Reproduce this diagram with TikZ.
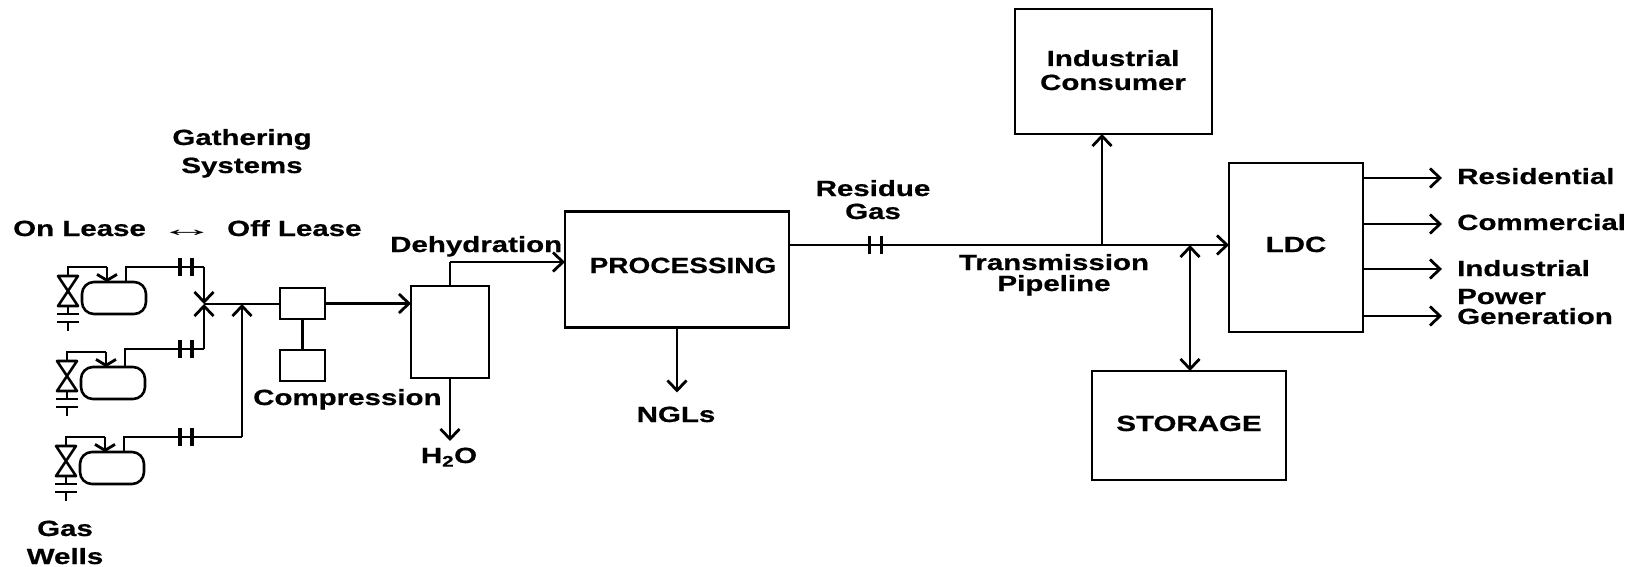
\documentclass[tikz,border=0pt]{standalone}
\usepackage{fontspec}
\setmainfont[FakeStretch=1.34,BoldFeatures={FakeBold=0.7}]{Liberation Sans}
\usetikzlibrary{arrows.meta}
\tikzset{
  >={Straight Barb[length=10pt,width=19pt]},
  pipe/.style={line width=2.8pt},
  boxnode/.style={draw,line width=2.9pt,inner sep=0pt,outer sep=0pt},
  lbl/.style={font=\fontsize{22}{22}\selectfont\bfseries,inner sep=0pt,anchor=base},
  lbll/.style={lbl,anchor=base west},
  wellsym/.pic={
    \coordinate (-in) at (39,0);
    \coordinate (-vt) at (0,9);
    \node[draw,line width=2.6pt,rounded corners=12pt,minimum width=64pt,minimum height=32pt,inner sep=0pt,outer sep=0pt] (-vessel) at (46,31) {};
    \coordinate (-out) at (58,15);
    \draw[line width=2.6pt,line join=round] (-10,9) -- (10,9) -- (-10,39) -- (10,39) -- cycle;
    \draw[pipe] (-vt) -- (0,0) -- (39,0);
    \draw[pipe,->,>={Straight Barb[length=6pt,width=20pt]}] (39,0) -- (39,15);
    \draw[pipe] (0,39) -- (0,47) (-11,47) -- (11,47) (-11,55) -- (11,55) (0,55) -- (0,64);
  },
  ticks/.pic={\draw[line width=3.6pt] (-6,-9) -- (-6,9) (6,-9) -- (6,9);}
}
\begin{document}
\begin{tikzpicture}[x=1pt,y=-1pt]
\useasboundingbox (0,0) rectangle (1638,567);
% wells
\pic (w1) at (68,267) {wellsym};
\pic (w2) at (67,352) {wellsym};
\pic (w3) at (66,437) {wellsym};
% boxes
\node[boxnode,minimum width=45pt,minimum height=31pt] (comp1) at (302.5,303.5) {};
\node[boxnode,minimum width=45pt,minimum height=31pt] (comp2) at (302.5,365.5) {};
\node[boxnode,minimum width=78pt,minimum height=92pt] (dehy) at (450,332) {};
\node[boxnode,minimum width=224pt,minimum height=116pt] (proc) at (677,269.5) {};
\node[boxnode,minimum width=197pt,minimum height=125pt] (ind) at (1113.5,71.5) {};
\node[boxnode,minimum width=134pt,minimum height=169pt] (ldc) at (1296,247.5) {};
\node[boxnode,minimum width=194pt,minimum height=109pt] (stor) at (1189,425.5) {};
% box texts
\node[lbl] (tproc) at (683,273) {\scalebox{0.95}[1]{PROCESSING}};
\node[lbl] (tind1) at (1113,66) {Industrial};
\node[lbl] (tind2) at (1113,90) {Consumer};
\node[lbl] (tldc) at (1296,252) {LDC};
\node[lbl] (tstor) at (1189,431) {STORAGE};
% other texts
\node[lbl] (gath1) at (242,145) {Gathering};
\node[lbl] (gath2) at (242,173) {Systems};
\node[lbll] (onl) at (13,236) {On Lease};
\node[lbl,font=\fontsize{22}{22}\selectfont] (lr) at (187,236) {\scalebox{1.9}[1]{↔}};
\node[lbll] (offl) at (227,236) {Off Lease};
\node[lbll] (tdehy) at (390,252) {Dehydration};
\node[lbll] (tcomp) at (253,405) {Compression};
\node[lbl] (th2o) at (449,463) {H\textsubscript{2}O};
\node[lbl] (tngl) at (676,422) {NGLs};
\node[lbl] (tres1) at (873,196) {Residue};
\node[lbl] (tres2) at (873,219) {Gas};
\node[lbl] (ttr1) at (1054,270) {Transmission};
\node[lbl] (ttr2) at (1054,291) {Pipeline};
\node[lbll] (c1) at (1457,184) {Residential};
\node[lbll] (c2) at (1457,230) {Commercial};
\node[lbll] (c3) at (1457,276) {Industrial};
\node[lbll] (c4a) at (1457,304) {Power};
\node[lbll] (c4b) at (1457,324) {Generation};
\node[lbl] (tg1) at (65,536) {Gas};
\node[lbl] (tg2) at (65,564) {Wells};
% gathering lines
\coordinate (j1) at (204,304);
\coordinate (j2) at (242,304);
\coordinate (b1) at (204,267);
\coordinate (b2) at (204,349);
\coordinate (b3) at (242,437);
\draw[pipe] (w1-out) |- (b1);
\draw[pipe] (w2-out) |- (b2);
\draw[pipe] (w3-out) |- (b3);
\draw[pipe,->] (b1) -- (j1);
\draw[pipe,->] (b2) -- (j1);
\draw[pipe,->] (b3) -- (j2);
\pic at (186,267) {ticks};
\pic at (186,349) {ticks};
\pic at (186,437) {ticks};
\draw[pipe] (j1) -- (j1 -| comp1.west);
\draw[pipe,->] (comp1.east) -- (dehy.west |- comp1.east);
\draw[pipe] (comp1.south) -- (comp2.north);
% dehydration
\coordinate (dout) at (450,262);
\draw[pipe] (dehy.north) -- (dout);
\draw[pipe,->] (dout) -- (dout -| proc.west);
\draw[pipe,->] (dehy.south) -- ++(0,63);
\draw[pipe,->] (proc.south) -- ++(0,65);
% main line
\coordinate (tee) at (1102,245);
\coordinate (stg) at (1190,245);
\draw[pipe,->] (tee -| proc.east) -- (tee -| ldc.west);
\pic at (875.5,245) {ticks};
\draw[pipe,->] (tee) -- (tee |- ind.south);
\draw[pipe,<->] (stg) -- (stg |- stor.north);
% outlets
\coordinate (r1) at (1442,178);
\coordinate (r2) at (1442,224);
\coordinate (r3) at (1442,269);
\coordinate (r4) at (1442,316);
\draw[pipe,->] (r1 -| ldc.east) -- (r1);
\draw[pipe,->] (r2 -| ldc.east) -- (r2);
\draw[pipe,->] (r3 -| ldc.east) -- (r3);
\draw[pipe,->] (r4 -| ldc.east) -- (r4);
\end{tikzpicture}
\end{document}
